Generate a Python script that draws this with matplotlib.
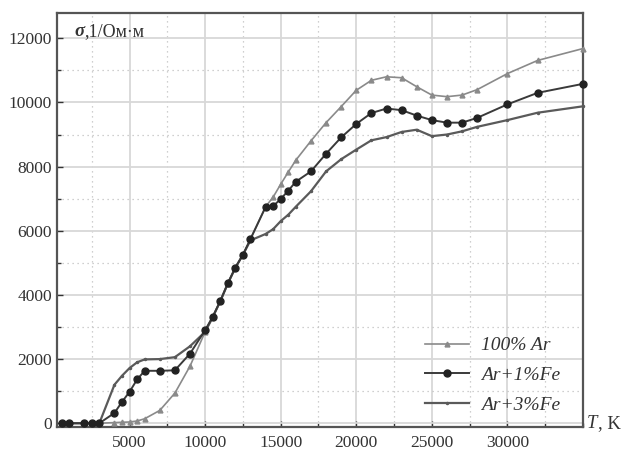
import numpy as np
import matplotlib.pyplot as plt
from matplotlib.ticker import MultipleLocator

plt.rcParams["font.family"] = ["Liberation Serif", "DejaVu Serif"]

# temperature grid, K
T = [500, 1000, 2000, 2500, 3000, 4000, 4500, 5000, 5500, 6000, 7000, 8000,
     9000, 10000, 10500, 11000, 11500, 12000, 12500, 13000, 14000, 14500,
     15000, 15500, 16000, 17000, 18000, 19000, 20000, 21000, 22000, 23000,
     24000, 25000, 26000, 27000, 28000, 30000, 32000, 35000]

# conductivity, 1/(Ohm*m)
sigma_ar = [0, 0, 0, 0, 0, 20, 30, 40, 70, 140, 400, 940,
            1780, 2850, 3300, 3800, 4350, 4850, 5250, 5750, 6750, 7050,
            7450, 7830, 8200, 8800, 9370, 9870, 10380, 10690, 10800, 10770,
            10490, 10230, 10180, 10230, 10400, 10900, 11310, 11680]
sigma_fe1 = [0, 0, 0, 0, 0, 320, 665, 980, 1365, 1635, 1635, 1650,
             2170, 2900, 3320, 3810, 4365, 4850, 5250, 5740, 6740, 6770,
             6990, 7250, 7530, 7850, 8400, 8910, 9330, 9670, 9810, 9760,
             9590, 9450, 9370, 9370, 9520, 9940, 10300, 10580]
sigma_fe3 = [0, 0, 0, 0, 0, 1200, 1480, 1720, 1900, 1990, 2000, 2060,
             2400, 2850, 3300, 3800, 4350, 4850, 5250, 5700, 5900, 6050,
             6300, 6500, 6750, 7230, 7850, 8230, 8530, 8820, 8920, 9080,
             9150, 8950, 9000, 9100, 9240, 9450, 9680, 9880]

labels = ["100% Ar", "Ar+1%Fe", "Ar+3%Fe"]
xticks = [5000, 10000, 15000, 20000, 25000, 30000]

fig = plt.figure(figsize=(6.25, 4.51), dpi=100)
ax = fig.add_axes([0.0912, 0.053, 0.8416, 0.919])

ax.plot(T, sigma_ar, color="#8a8a8a", lw=1.2, marker="^", ms=3.5,
        mfc="#8a8a8a", mec="#8a8a8a", label=labels[0], zorder=3, clip_on=False)
ax.plot(T, sigma_fe1, color="#3a3a3a", lw=1.4, marker="o", ms=5,
        mfc="#222222", mec="#222222", label=labels[1], zorder=4, clip_on=False)
ax.plot(T, sigma_fe3, color="#5a5a5a", lw=1.6, marker=".", ms=3,
        mfc="#5a5a5a", mec="#5a5a5a", label=labels[2], zorder=3, clip_on=False)

ax.set_xlim(200, 35000)
ax.set_ylim(-120, 12800)
ax.set_xticks(xticks)
ax.xaxis.set_minor_locator(MultipleLocator(2500))
ax.yaxis.set_major_locator(MultipleLocator(2000))
ax.yaxis.set_minor_locator(MultipleLocator(1000))

ax.grid(which="major", color="#d8d8d8", lw=1.3, ls="-", zorder=0)
ax.grid(which="minor", color="#c0c0c0", lw=0.9, ls=(0, (1, 3)), zorder=0)
ax.set_axisbelow(True)

ax.tick_params(which="both", direction="in", labelsize=12.5, colors="#333333",
               top=False, right=False)
ax.tick_params(which="major", length=4, width=1)
ax.tick_params(which="minor", length=3, width=1)
ax.tick_params(axis="x", pad=6)
for s in ax.spines.values():
    s.set_color("#555555")
    s.set_linewidth(1.6)

# y-axis caption inside the top-left corner
t1 = ax.text(0.033, 0.975, "σ", transform=ax.transAxes, fontsize=13.5,
             fontstyle="italic", fontweight="bold", va="top", ha="left",
             color="#333333")
ax.annotate(",1/Ом·м", xy=(1, 0), xycoords=t1, va="bottom", ha="left",
            fontsize=13, color="#333333")

# x-axis caption to the right of the axes
t2 = ax.text(1.008, -0.012, "T", transform=ax.transAxes, fontsize=13.5,
             fontstyle="italic", va="bottom", ha="left", color="#333333")
ax.annotate(", K", xy=(1, 0), xycoords=t2, va="bottom", ha="left",
            fontsize=13.5, color="#333333")

leg = ax.legend(loc="lower right", bbox_to_anchor=(0.99, -0.01), frameon=False,
                prop={"style": "italic", "size": 14}, handlelength=2.3,
                labelspacing=0.62, handletextpad=0.6)
for txt in leg.get_texts():
    txt.set_color("#333333")

fig.savefig("out.png", dpi=100)
